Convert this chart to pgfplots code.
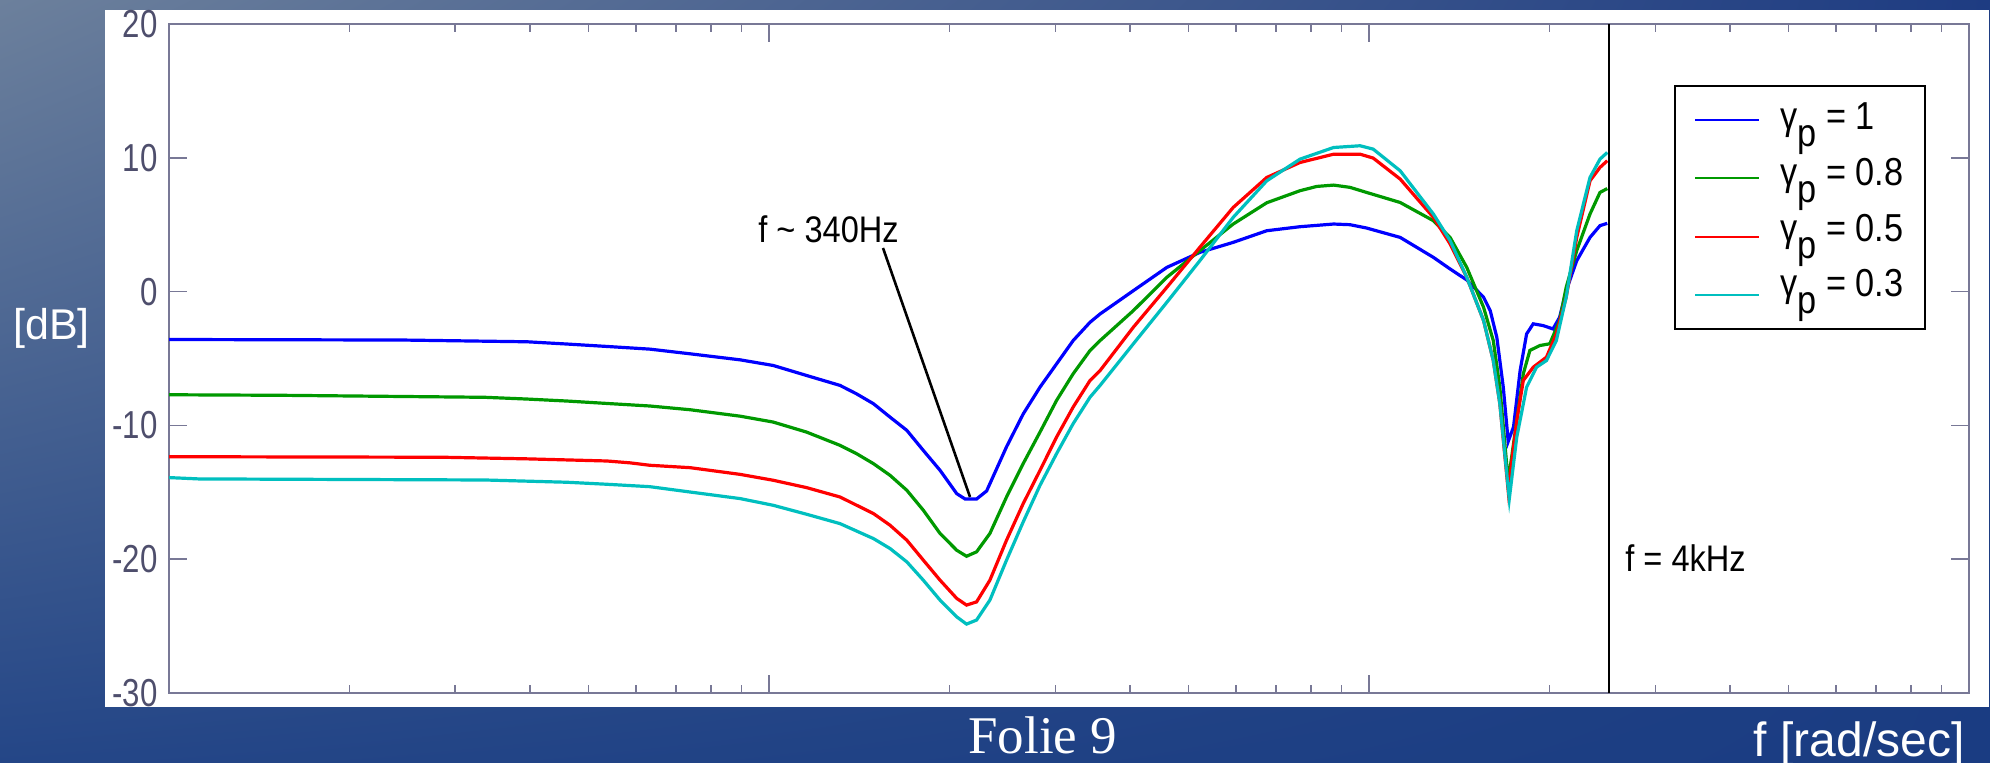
\documentclass[border=0pt]{standalone}
\usepackage{fontspec}
\setmainfont{Liberation Sans}
\newfontfamily\matfont[FakeStretch=0.88]{Liberation Sans}
\newfontfamily\tickfont[FakeStretch=0.8]{Liberation Sans}
\newfontfamily\slidefont{Liberation Serif}
\usepackage{pgfplots}
\pgfplotsset{compat=1.18}
\usetikzlibrary{shadings}

\definecolor{mblue}{rgb}{0,0,1}
\definecolor{mgreen}{rgb}{0,0.6,0}
\definecolor{mred}{rgb}{1,0,0}
\definecolor{mcyan}{rgb}{0,0.75,0.75}
\definecolor{axisgray}{RGB}{120,120,150}
\definecolor{ticktext}{RGB}{78,78,108}
\definecolor{slideA}{RGB}{108,128,156}
\definecolor{slideB}{RGB}{30,60,130}
\definecolor{slideC}{RGB}{36,70,135}
\definecolor{slideD}{RGB}{26,60,130}

\begin{document}
\begin{tikzpicture}
% whole slide crop: 1990 x 763 px, 1 px = 0.5pt
\useasboundingbox (0,0) rectangle (995pt,-381.5pt);
\begin{scope}[x=0.5pt,y=-0.5pt]
  \shade[upper left=slideA, upper right=slideB, lower left=slideC, lower right=slideD]
    (0,0) rectangle (1990,763);
  \fill[white] (105,10) rectangle (1989,707);
\end{scope}

\begin{scope}
\clip (52.5pt,-5pt) rectangle (994.5pt,-353.5pt);
\begin{axis}[
  at={(84.5pt,-346.5pt)}, anchor=south west,
  width=900pt, height=334.5pt, scale only axis,
  xmode=log, xmin=100, xmax=100000,
  ymin=-30, ymax=20,
  ytick={-30,-20,-10,0,10,20},
  xtick={100,1000,10000,100000},
  minor xtick={200,300,400,500,600,700,800,900,
    2000,3000,4000,5000,6000,7000,8000,9000,
    20000,30000,40000,50000,60000,70000,80000,90000},
  xticklabels={},
  tick align=inside, tick pos=both,
  major tick length=9pt, minor tick length=4pt,
  axis line style={axisgray, line width=1pt},
  every tick/.style={axisgray, line width=0.8pt},
  /pgf/number format/assume math mode=true,
  yticklabel style={font=\tickfont\fontsize{19.5}{20}\selectfont, text=ticktext,
    anchor=east, inner sep=0pt, xshift=-5.5pt},
  clip=true,
]
% gamma_p = 1
\addplot[mblue, line width=1.6pt] coordinates {
 (100,-3.58) (245,-3.62) (395,-3.75) (461,-3.92) (537,-4.10) (633,-4.30)
 (739,-4.65) (895,-5.10) (1016,-5.52) (1155,-6.27) (1313,-7.01) (1399,-7.64)
 (1493,-8.38) (1591,-9.38) (1697,-10.37) (1808,-11.87) (1928,-13.36) (2055,-15.1)
 (2122,-15.5) (2218,-15.5) (2305,-14.9) (2488,-11.6) (2652,-9.15) (2829,-7.14)
 (3015,-5.40) (3213,-3.66) (3428,-2.29) (3563,-1.67) (4048,0.07) (4603,1.81)
 (5224,2.93) (5938,3.68) (6754,4.55) (7674,4.85) (8730,5.05) (9296,5.00)
 (9909,4.75) (11270,4.05) (12800,2.56) (13650,1.69) (14550,0.87) (15520,-0.42)
 (15920,-1.42) (16330,-3.41) (16740,-7.14) (17060,-11.2) (17410,-10.12)
 (17860,-5.90) (18310,-3.16) (18780,-2.41) (19510,-2.54) (20260,-2.79)
 (20780,-1.92) (21310,0.07) (22190,2.31) (23350,4.05) (24260,4.93) (24950,5.10)
};
% gamma_p = 0.8
\addplot[mgreen, line width=1.6pt] coordinates {
 (100,-7.71) (154,-7.75) (336,-7.90) (395,-8.03) (461,-8.18) (537,-8.36) (633,-8.55)
 (739,-8.83) (895,-9.31) (1016,-9.75) (1155,-10.50) (1313,-11.49) (1399,-12.11)
 (1493,-12.86) (1591,-13.73) (1697,-14.85) (1808,-16.34) (1928,-18.08) (2055,-19.33)
 (2134,-19.78) (2218,-19.45) (2334,-18.08) (2488,-15.35) (2652,-12.86) (2829,-10.50)
 (3015,-8.13) (3213,-6.14) (3428,-4.40) (3563,-3.66) (4048,-1.42) (4603,1.07)
 (5224,3.06) (5938,5.05) (6754,6.64) (7674,7.54) (8184,7.86) (8730,7.96) (9296,7.79)
 (9909,7.41) (11270,6.66) (12800,5.30) (13650,4.05) (14550,1.81) (15520,-1.17)
 (16110,-3.66) (16520,-7.14) (17060,-14.2) (17630,-9.63) (18080,-6.14) (18540,-4.40)
 (19260,-4.03) (20010,-3.90) (20780,-2.16) (21310,0.32) (22190,3.06) (23350,5.80)
 (24260,7.41) (24950,7.70)
};
% gamma_p = 0.5
\addplot[mred, line width=1.6pt] coordinates {
 (100,-12.34) (286,-12.38) (395,-12.50) (537,-12.66) (587,-12.80) (633,-12.98)
 (739,-13.16) (895,-13.66) (1016,-14.10) (1155,-14.65) (1313,-15.35) (1493,-16.59)
 (1591,-17.46) (1697,-18.58) (1808,-20.07) (1928,-21.57) (2055,-22.93) (2134,-23.43)
 (2218,-23.19) (2334,-21.57) (2488,-18.58) (2652,-15.85) (2829,-13.36) (3015,-10.87)
 (3213,-8.63) (3428,-6.64) (3563,-5.90) (4048,-2.66) (4603,0.32) (5224,3.31)
 (5938,6.29) (6754,8.53) (7674,9.65) (8730,10.27) (9661,10.27) (10160,9.98)
 (11270,8.41) (12800,5.55) (13650,3.56) (14550,1.07) (15520,-2.16) (16110,-5.15)
 (16520,-8.38) (17060,-14.9) (17630,-9.63) (18080,-6.64) (18780,-5.65) (19760,-4.90)
 (20520,-3.16) (21310,-0.42) (22190,4.05) (23350,8.28) (24260,9.28) (24950,9.78)
};
% gamma_p = 0.3
\addplot[mcyan, line width=1.6pt] coordinates {
 (100,-13.90) (112,-14.00) (336,-14.08) (461,-14.25) (537,-14.40) (633,-14.58)
 (739,-14.98) (895,-15.47) (1016,-15.97) (1155,-16.64) (1313,-17.34) (1493,-18.46)
 (1591,-19.20) (1697,-20.20) (1808,-21.57) (1928,-23.06) (2055,-24.31) (2134,-24.85)
 (2218,-24.55) (2334,-23.06) (2488,-20.07) (2652,-17.22) (2829,-14.48) (3015,-12.11)
 (3213,-9.87) (3428,-7.89) (3563,-7.01) (4048,-3.90) (4603,-0.80) (5224,2.31)
 (5938,5.55) (6754,8.28) (7674,9.90) (8730,10.77) (9661,10.90) (10160,10.65)
 (11270,9.03) (12800,5.80) (13650,3.81) (14550,1.07) (15520,-2.16) (16110,-5.15)
 (16520,-8.38) (17130,-15.5) (17630,-10.87) (18310,-7.14) (19020,-5.65) (19760,-5.15)
 (20520,-3.66) (21310,-0.42) (22190,4.55) (23350,8.53) (24260,9.90) (24950,10.40)
};
% f = 4 kHz
\draw[black, line width=1pt] (axis cs:25133,-30) -- (axis cs:25133,20);
\end{axis}
\end{scope}

% annotations, legend and slide text (px coordinates)
\begin{scope}[x=0.5pt,y=-0.5pt]
  \draw[black, line width=1.3pt] (883,248) -- (970,497);
  \node[anchor=base west, inner sep=0pt, font=\matfont\fontsize{18.5}{20}\selectfont]
    at (758,243) {f \textasciitilde{} 340Hz};
  \node[anchor=base west, inner sep=0pt, font=\matfont\fontsize{18.5}{20}\selectfont]
    at (1625,572) {f = 4kHz};
  % legend
  \draw[black, line width=1pt, fill=white] (1675,86) rectangle (1925,329);
  \draw[mblue, line width=1.2pt] (1695,120) -- (1759,120);
  \draw[mgreen, line width=1.2pt] (1695,178) -- (1759,178);
  \draw[mred, line width=1.2pt] (1695,237) -- (1759,237);
  \draw[mcyan, line width=1.2pt] (1695,295) -- (1759,295);
  \begin{scope}[every node/.style={anchor=base west, inner sep=0pt,
      font=\matfont\fontsize{19.5}{20}\selectfont}]
    \node at (1780,130) {γ\raisebox{-0.42em}{p} = 1};
    \node at (1780,186) {γ\raisebox{-0.42em}{p} = 0.8};
    \node at (1780,242) {γ\raisebox{-0.42em}{p} = 0.5};
    \node at (1780,297) {γ\raisebox{-0.42em}{p} = 0.3};
  \end{scope}
  % slide text
  \node[anchor=base west, inner sep=0pt, text=white, font=\fontsize{21.5}{24}\selectfont]
    at (13,340) {[dB]};
  \node[anchor=base west, inner sep=0pt, text=white, font=\slidefont\fontsize{26.5}{30}\selectfont]
    at (968,753) {Folie 9};
  \node[anchor=base east, inner sep=0pt, text=white, font=\fontsize{24}{28}\selectfont]
    at (1965,756) {f [rad/sec]};
\end{scope}
\end{tikzpicture}
\end{document}
